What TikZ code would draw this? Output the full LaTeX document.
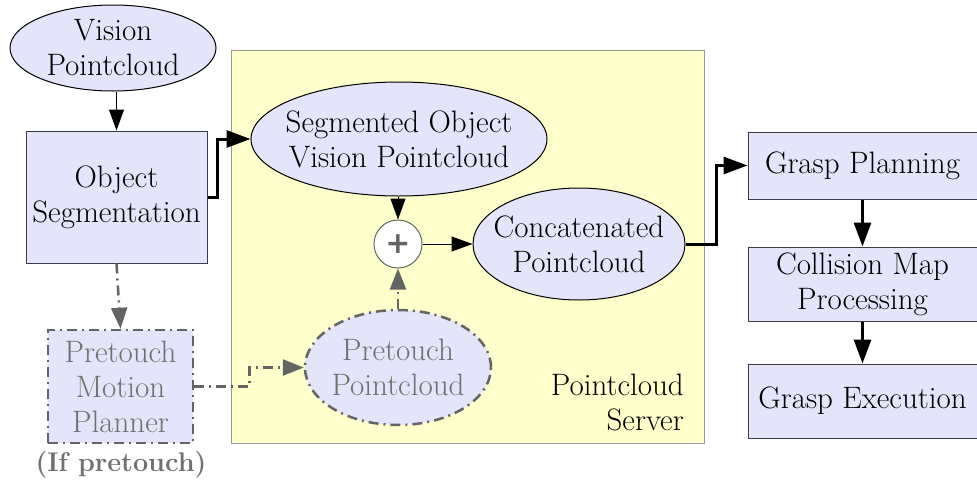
\documentclass[tikz,border=0pt]{standalone}
\usepackage{fontspec}
\newfontfamily\plusfont{DejaVu Sans}
\usetikzlibrary{arrows.meta,shapes.geometric}
\definecolor{lav}{RGB}{228,228,250}
\definecolor{pale}{RGB}{255,255,204}
\definecolor{dgray}{RGB}{100,100,100}
\definecolor{tgray}{RGB}{112,112,112}
\definecolor{bord}{RGB}{60,60,70}
\tikzset{
  x=1pt, y=-1pt,
  every node/.style={font=\fontsize{31}{35}\selectfont, align=center, inner sep=0pt},
  ell/.style={ellipse, draw=black, line width=1pt, fill=lav, inner xsep=-25pt, inner ysep=-6pt},
  box/.style={rectangle, draw=bord, line width=1pt, fill=lav},
  dd/.style={dash pattern=on 10pt off 5pt on 2pt off 5pt},
  thinarr/.style={draw=black, line width=1pt, -{Triangle[length=21pt,width=15pt]}},
  thickarr/.style={draw=black, line width=3pt, -{Triangle[length=24pt,width=17pt]}},
  grayarr/.style={draw=dgray, line width=2.5pt, dd, -{Triangle[length=21pt,width=16pt,fill=dgray]}},
}
\begin{document}
\begin{tikzpicture}
\useasboundingbox (0,0) rectangle (977,485);
% panel
\node[draw=gray!80, fill=pale, line width=1pt, minimum width=473pt, minimum height=393pt, anchor=north west] (panel) at (231,50) {};
\node[anchor=east, align=right] (srv) at (684,402) {Pointcloud\\Server};
% nodes
\node[ell, minimum width=206pt, minimum height=86pt] (vis) at (113,48) {Vision\\Pointcloud};
\node[box, minimum width=181pt, minimum height=132pt] (seg) at (116.5,197) {Object\\Segmentation};
\node[box, draw=dgray, line width=2.5pt, dd, minimum width=145pt, minimum height=113pt, text=tgray] (ppl) at (120.5,386.5) {Pretouch\\Motion\\Planner};
\node[text=tgray, font=\fontsize{27}{35}\selectfont\bfseries] (ifp) at (121,465) {(If pretouch)};
\node[ell, minimum width=296pt, minimum height=114pt] (sov) at (399,139) {Segmented Object\\Vision Pointcloud};
\node[circle, draw=dgray, line width=1pt, fill=white, minimum size=48pt, text=dgray, font=\plusfont\bfseries\fontsize{30}{30}\selectfont] (plus) at (398,244) {+};
\node[ell, minimum width=212pt, minimum height=112pt] (cat) at (579,244) {Concatenated\\Pointcloud};
\node[ell, draw=dgray, line width=2.5pt, dd, minimum width=186pt, minimum height=115pt, text=tgray] (ppc) at (398,367.5) {Pretouch\\Pointcloud};
\node[box, minimum width=229pt, minimum height=67pt] (gp) at (862.5,165.5) {Grasp Planning};
\node[box, minimum width=229pt, minimum height=74pt] (cm) at (862.5,284) {Collision Map\\Processing};
\node[box, minimum width=229pt, minimum height=74pt] (ge) at (862.5,401) {Grasp Execution};
% connectors
\draw[thinarr] (seg.north |- vis.south) -- (seg.north);
\draw[thickarr] (seg.east) -- ++(10,0) |- (sov.west);
\draw[thinarr] (plus.north |- sov.south) -- (plus.north);
\draw[thinarr] (plus.east) -- (plus.east -| cat.west);
\draw[thickarr] (cat.east) -- ++(31,0) |- (gp.west);
\draw[thickarr] (gp.south) -- (cm.north);
\draw[thickarr] (cm.south) -- (ge.north);
\draw[grayarr] (seg.south) -- (ppl.north);
\draw[grayarr] (ppl.east) -- ++(55,0) |- (ppc.west);
\draw[grayarr] (plus.south |- ppc.north) -- (plus.south);
\end{tikzpicture}
\end{document}
